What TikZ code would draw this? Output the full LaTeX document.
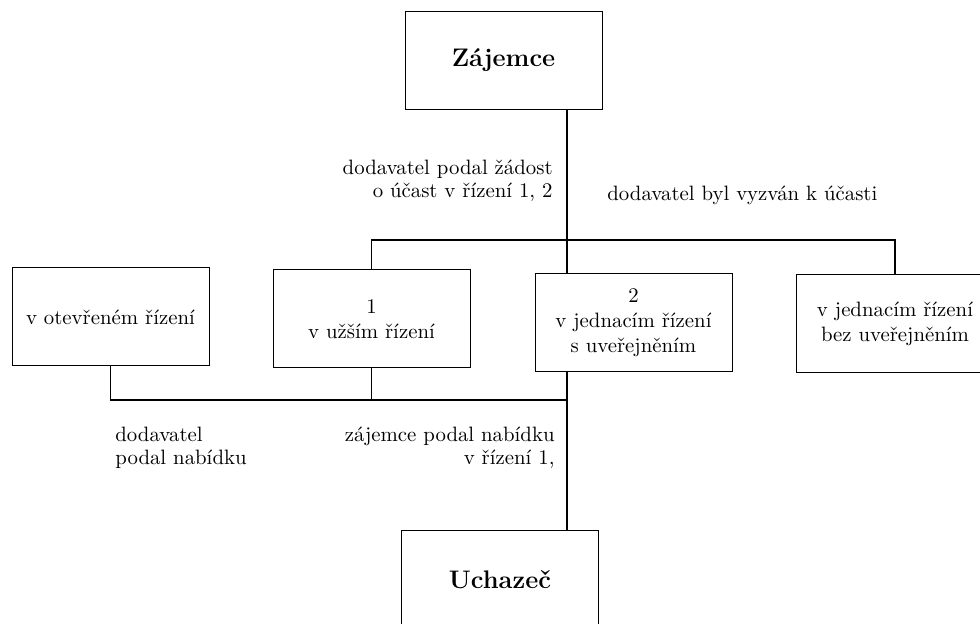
\documentclass[tikz,border=0pt]{standalone}
\usepackage{fontspec}

\tikzset{
		box/.style={draw, line width=0.5pt, minimum width=98.5pt, minimum height=49pt, align=center, inner sep=2pt, font={\fontsize{10.4}{12.5}\selectfont}},
		big/.style={box, font={\fontsize{12.7}{15}\selectfont\bfseries}},
		link/.style={black, line width=0.6pt},
		note/.style={inner sep=0pt, font={\fontsize{10.4}{11.5}\selectfont}}
	}

\begin{document}
\begin{tikzpicture}[x=0.5pt, y=-0.5pt]
	
	\useasboundingbox (0,0) rectangle (980,624);
	
	\node (zajemce) at (503.5,60.5) [big] {Zájemce};
	
	\node (otevrene) at (110.5,317) [box] {v otevřeném řízení};
	\node (uzsi) at (371.5,319) [box] {1\\ v užším řízení};
	\node (suver) at (633.5,323) [box] {2\\ v jednacím řízení\\ s uveřejněním};
	\node (bezuver) at (895,323.5) [box] {v jednacím řízení\\ bez uveřejněním};
	
	\node (uchazec) at (500,579.5) [big] {Uchazeč};
	
	\coordinate (horni) at (567,240);
	\coordinate (dolni) at (567,400);
	
	% nahore
	\draw[link] (zajemce.south -| horni) -- (horni);
	\draw[link] (uzsi.north) |- (horni) -| (bezuver.north);
	\draw[link] (horni) -- (horni |- suver.north);
	
	% dole
	\draw[link] (otevrene.south) |- (dolni);
	\draw[link] (uzsi.south) -- (uzsi.south |- dolni);
	\draw[link] (suver.south -| dolni) -- (uchazec.north -| dolni);
	
	\node (zadost) at (553,181) [note, anchor=east, align=right] {dodavatel podal žádost\\ o účast v řízení 1, 2};
	\node (vyzvan) at (607,195) [note, anchor=west] {dodavatel byl vyzván k účasti};
	\node (podal) at (115,448) [note, anchor=west, align=left] {dodavatel\\ podal nabídku};
	\node (nabidka) at (555,448) [note, anchor=east, align=right] {zájemce podal nabídku\\ v řízení 1,};
	
\end{tikzpicture}
\end{document}
